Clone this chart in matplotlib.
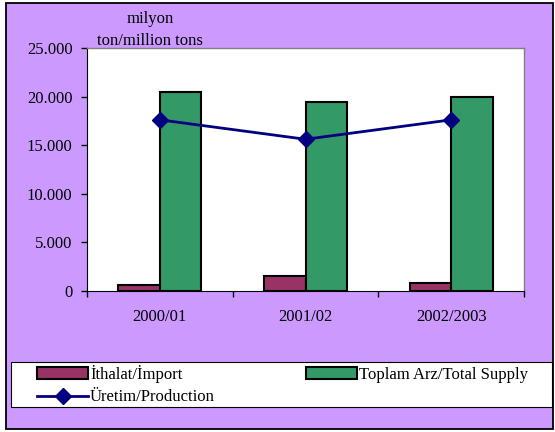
import numpy as np
import matplotlib.pyplot as plt
from matplotlib.patches import Rectangle
from matplotlib.ticker import FuncFormatter

# -----------------------------
# 数据
# -----------------------------
years = ["2000/01", "2001/02", "2002/2003"]
ithalat = [550, 1500, 800]          # İthalat/İmport
toplam_arz = [20450, 19400, 19950]  # Toplam Arz/Total Supply
uretim = [17600, 15600, 17600]      # Üretim/Production

BG = "#CC99FF"
C_IMP = "#993366"
C_SUP = "#339966"
C_LINE = "#000080"

plt.rcParams['font.family'] = ['Liberation Serif', 'DejaVu Serif']
plt.rcParams['font.size'] = 12

fig = plt.figure(figsize=(5.55, 4.32), dpi=100)
fig.patch.set_facecolor("white")

# 外框 + 图例框
fig.patches.append(Rectangle((6 / 555, 3 / 432), 547 / 555, 426 / 432,
                             transform=fig.transFigure, facecolor=BG,
                             edgecolor="black", linewidth=1.3, zorder=-2))
fig.patches.append(Rectangle((11 / 555, 1 - 407 / 432), 541 / 555, 45 / 432,
                             transform=fig.transFigure, facecolor="white",
                             edgecolor="black", linewidth=0.8, zorder=-1))

ax = fig.add_axes([87 / 555, 1 - 290.7 / 432, 437 / 555, 242.7 / 432])
ax.set_facecolor("white")

x = np.arange(len(years))
w = 1 / 3.5
ax.bar(x - w / 2, ithalat, w, color=C_IMP, edgecolor="black", linewidth=1.5,
       label="İthalat/İmport", zorder=2)
ax.bar(x + w / 2, toplam_arz, w, color=C_SUP, edgecolor="black", linewidth=1.5,
       label="Toplam Arz/Total Supply", zorder=2)
ax.plot(x, uretim, color=C_LINE, linewidth=2, marker="D", markersize=8,
        label="Üretim/Production", zorder=3)

ax.set_xlim(-0.5, len(years) - 0.5)
ax.set_ylim(0, 25000)
ax.set_yticks(np.arange(0, 25001, 5000))
ax.yaxis.set_major_formatter(FuncFormatter(lambda v, p: f"{int(v):,}".replace(",", ".")))
ax.set_xticks(np.arange(-0.5, len(years), 1))
ax.set_xticklabels([""] * (len(years) + 1))
ax.set_xticks(x, minor=True)
ax.set_xticklabels(years, minor=True)
ax.tick_params(axis="x", which="minor", length=0, pad=13)
ax.tick_params(axis="x", which="major", length=4, width=1, direction="out")
ax.tick_params(axis="y", length=4, width=1, direction="out", pad=6.5)

for s in ["top", "right"]:
    ax.spines[s].set_color("#808080")
    ax.spines[s].set_linewidth(1)
ax.spines["left"].set_color("black")
ax.spines["bottom"].set_color("black")

fig.text(150 / 555, 1 - 19 / 432, "milyon", ha="center", va="center")
fig.text(150 / 555, 1 - 41 / 432, "ton/million tons", ha="center", va="center")

h, l = ax.get_legend_handles_labels()
# 列优先排列：第一列 İthalat + Üretim，第二列 Toplam Arz
h = [h[i] for i in [1, 0, 2]]
l = [l[i] for i in [1, 0, 2]]
leg = fig.legend(h, l, ncol=2,
                 bbox_to_anchor=(35 / 555, 1 - 363 / 432),
                 loc="upper left", frameon=False,
                 handlelength=3.1, handletextpad=0.1, columnspacing=5.45,
                 borderpad=0.1, labelspacing=0.4, borderaxespad=0)

plt.savefig("out.png", dpi=100, facecolor=fig.get_facecolor())
